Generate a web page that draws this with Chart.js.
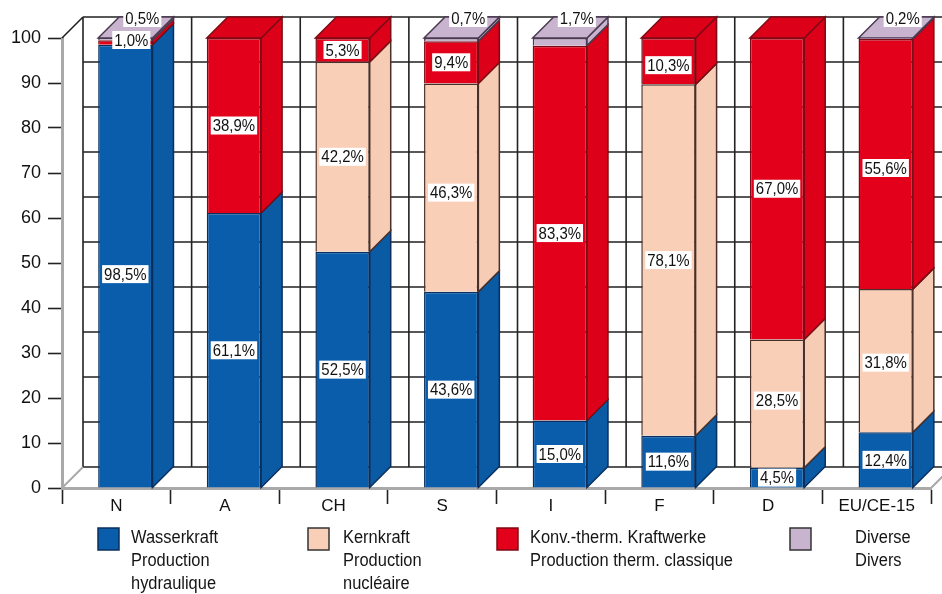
<!DOCTYPE html>
<html>
<head>
<meta charset="utf-8">
<title>Stromerzeugung</title>
<script src="https://cdn.jsdelivr.net/npm/chart.js@4"></script>
<style>
  html, body { margin: 0; padding: 0; background: #fff; }
  canvas { display: block; }
</style>
</head>
<body>
<canvas id="mixChart" width="942" height="594"></canvas>
<script>
const categories = ['N', 'A', 'CH', 'S', 'I', 'F', 'D', 'EU/CE-15'];
const wasserkraft = [98.5, 61.1, 52.5, 43.6, 15.0, 11.6, 4.5, 12.4];
const kernkraft = [0, 0, 42.2, 46.3, 0, 78.1, 28.5, 31.8];
const thermisch = [1.0, 38.9, 5.3, 9.4, 83.3, 10.3, 67.0, 55.6];
const diverse = [0.5, 0, 0, 0.7, 1.7, 0, 0, 0.2];
const yTicks = [0, 10, 20, 30, 40, 50, 60, 70, 80, 90, 100];
const legendText = [
  ['Wasserkraft', 'Production', 'hydraulique'],
  ['Kernkraft', 'Production', 'nucléaire'],
  ['Konv.-therm. Kraftwerke', 'Production therm. classique'],
  ['Diverse', 'Divers']
];

const depth = 21;     // 3D offset of the back wall
const barShift = 9;   // bars sit a bit right of the axis labels
const squeeze = 0.88; // the original type is condensed
const fontName = '"Liberation Sans", Arial, sans-serif';
const lineColor = '#222';
const axisGrey = '#a9a9a9';
const legendX = [98, 308, 497, 790];
const legendTextX = [131, 343, 530, 855];
// small manual moves of labels, like in the original: "dataset:bar" -> px
const labelNudge = { '0:0': 8, '1:3': 5, '2:5': 4, '2:7': 4, '1:7': 2, '1:6': -3 };

function fmt(v) {
  return v.toFixed(1).replace('.', ',') + '%';
}

function poly(ctx, pts, fill, stroke) {
  ctx.beginPath();
  pts.forEach((p, i) => i ? ctx.lineTo(p[0], p[1]) : ctx.moveTo(p[0], p[1]));
  ctx.closePath();
  ctx.fillStyle = fill;
  ctx.fill();
  ctx.lineWidth = 1.5;
  ctx.strokeStyle = stroke;
  ctx.stroke();
}

function narrowText(ctx, text, x, y) {
  ctx.save();
  ctx.translate(x, y);
  ctx.scale(squeeze, 1);
  ctx.fillText(text, 0, 0);
  ctx.restore();
}

function drawWall(chart) {
  const ctx = chart.ctx, x = chart.scales.x, y = chart.scales.y;
  const left = x.left, right = chart.width;
  ctx.save();
  ctx.strokeStyle = lineColor;
  ctx.lineWidth = 1.6;
  ctx.beginPath();
  yTicks.forEach(v => {
    const py = y.getPixelForValue(v) - depth;
    ctx.moveTo(left + depth, py);
    ctx.lineTo(right, py);
  });
  for (let i = 0; i < categories.length; i++) {
    const px = x.getPixelForValue(i) - (x.getPixelForValue(1) - x.getPixelForValue(0)) / 2 + depth;
    ctx.moveTo(px, y.getPixelForValue(100) - depth);
    ctx.lineTo(px, y.getPixelForValue(0) - depth);
  }
  // upper diagonal from the axis to the wall
  ctx.moveTo(left, y.getPixelForValue(100));
  ctx.lineTo(left + depth, y.getPixelForValue(100) - depth);
  ctx.stroke();
  ctx.strokeStyle = axisGrey;
  ctx.lineWidth = 2;
  ctx.beginPath();
  ctx.moveTo(left, y.getPixelForValue(0));
  ctx.lineTo(left + depth, y.getPixelForValue(0) - depth);
  ctx.moveTo(x.right, y.getPixelForValue(0));
  ctx.lineTo(x.right + depth, y.getPixelForValue(0) - depth);
  ctx.stroke();
  ctx.restore();
}

function drawFaces(chart) {
  const ctx = chart.ctx;
  ctx.save();
  chart.data.datasets.forEach((ds, d) => {
    chart.getDatasetMeta(d).data.forEach((bar, i) => {
      if (!ds.data[i]) return;
      const r = bar.x + bar.width / 2 + barShift;
      const l = bar.x - bar.width / 2 + barShift;
      poly(ctx, [[r, bar.base], [r + depth, bar.base - depth], [r + depth, bar.y - depth], [r, bar.y]], ds.sideColor, ds.borderColor);
      // top face only for the last filled segment of the stack
      const isTop = chart.data.datasets.slice(d + 1).every(o => !o.data[i]);
      if (isTop) {
        poly(ctx, [[l, bar.y], [l + depth, bar.y - depth], [r + depth, bar.y - depth], [r, bar.y]], ds.sideColor, ds.borderColor);
      }
    });
  });
  ctx.restore();
}

function drawLabel(ctx, text, cx, cy) {
  ctx.font = '17px ' + fontName;
  const w = ctx.measureText(text).width * squeeze;
  ctx.fillStyle = '#fff';
  ctx.fillRect(cx - w / 2 - 2, cy - 9, w + 4, 18);
  ctx.fillStyle = '#111';
  ctx.textAlign = 'center';
  ctx.textBaseline = 'middle';
  narrowText(ctx, text, cx, cy + 1);
}

function drawLabels(chart) {
  const ctx = chart.ctx;
  ctx.save();
  chart.data.datasets.forEach((ds, d) => {
    chart.getDatasetMeta(d).data.forEach((bar, i) => {
      const v = ds.data[i];
      if (!v) return;
      const cx = bar.x + barShift;
      if (d === 3) {
        // Diverse is too thin, label sits on the top of the bar
        drawLabel(ctx, fmt(v), cx + 17, chart.scales.y.getPixelForValue(100) - depth + 1);
      } else if (v <= 1) {
        drawLabel(ctx, fmt(v), cx + 6, chart.scales.y.getPixelForValue(100) + 2);
      } else {
        drawLabel(ctx, fmt(v), cx, (bar.y + bar.base) / 2 + (labelNudge[d + ':' + i] || 0));
      }
    });
  });
  ctx.restore();
}

function drawLegend(chart) {
  const ctx = chart.ctx;
  ctx.save();
  chart.data.datasets.forEach((ds, d) => {
    ctx.fillStyle = ds.backgroundColor;
    ctx.strokeStyle = ds.legendEdge;
    ctx.lineWidth = 1.5;
    ctx.fillRect(legendX[d], 528, 21, 22);
    ctx.strokeRect(legendX[d], 528, 21, 22);
    ctx.fillStyle = '#151515';
    ctx.font = '18.7px ' + fontName;
    ctx.textAlign = 'left';
    ctx.textBaseline = 'middle';
    legendText[d].forEach((line, k) => narrowText(ctx, line, legendTextX[d], 538 + k * 23));
  });
  ctx.restore();
}

const bar3d = {
  id: 'bar3d',
  beforeDatasetsDraw(chart) {
    drawWall(chart);
    drawFaces(chart);
    chart.ctx.save();
    chart.ctx.translate(barShift, 0);
  },
  afterDatasetsDraw(chart) {
    chart.ctx.restore();
    drawLabels(chart);
    drawLegend(chart);
  }
};

new Chart(document.getElementById('mixChart').getContext('2d'), {
  type: 'bar',
  data: {
    labels: categories,
    datasets: [
      { label: 'Wasserkraft', data: wasserkraft, backgroundColor: '#0a5dab', sideColor: '#0b5aa4', borderColor: '#0a2f5e', legendEdge: '#0a2f5e' },
      { label: 'Kernkraft', data: kernkraft, backgroundColor: '#f9cfb8', sideColor: '#f7ccb4', borderColor: '#4a3028', legendEdge: '#333' },
      { label: 'Konv.-therm. Kraftwerke', data: thermisch, backgroundColor: '#e2001a', sideColor: '#dd0019', borderColor: '#7d0a14', legendEdge: '#7d0a14' },
      { label: 'Diverse', data: diverse, backgroundColor: '#c9b4cf', sideColor: '#c9b4cf', borderColor: '#4a3a50', legendEdge: '#333' }
    ]
  },
  options: {
    responsive: false,
    animation: false,
    layout: { padding: { top: 38, right: 11 } },
    plugins: {
      legend: { display: false },
      tooltip: { enabled: false }
    },
    datasets: { bar: { barPercentage: 0.5, categoryPercentage: 1, borderWidth: 1.5, clip: false } },
    scales: {
      x: {
        stacked: true,
        afterFit: s => { s.height = 106; },
        grid: { offset: true, drawOnChartArea: false, tickLength: 16, tickWidth: 1.6, tickColor: lineColor },
        border: { color: axisGrey, width: 3 },
        ticks: { color: '#111', padding: -8, maxRotation: 0, font: { size: 17, family: fontName } }
      },
      y: {
        stacked: true,
        min: 0,
        max: 100,
        afterFit: s => { s.width = 62; },
        afterBuildTicks: s => { s.ticks = yTicks.map(v => ({ value: v })); },
        grid: { drawOnChartArea: false, tickLength: 14, tickWidth: 1.6, tickColor: lineColor },
        border: { color: axisGrey, width: 3 },
        ticks: { color: '#111', padding: 7, font: { size: 18, family: fontName } }
      }
    }
  },
  plugins: [bar3d]
});
</script>
</body>
</html>
